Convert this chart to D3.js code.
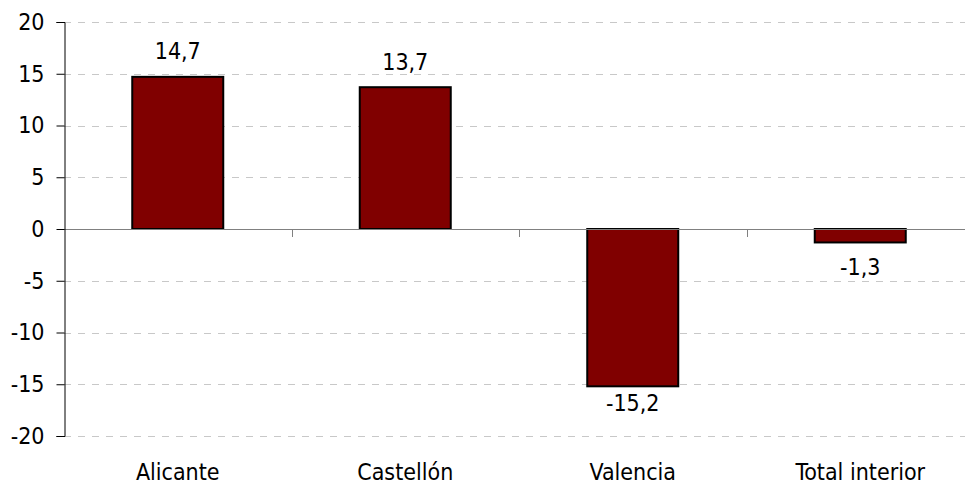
<!DOCTYPE html>
<html><head><meta charset="utf-8">
<script src="https://cdn.jsdelivr.net/npm/d3@7"></script>
<style>
html,body{margin:0;padding:0;background:#fff;}
svg text{font-family:"DejaVu Sans Condensed","DejaVu Sans",sans-serif;font-size:23px;fill:#000;}
</style></head>
<body><svg id="c" width="965" height="484"></svg>
<script>
const categories = ["Alicante", "Castellón", "Valencia", "Total interior"];
const values = [14.7, 13.7, -15.2, -1.3];
const labels = ["14,7", "13,7", "-15,2", "-1,3"];
const yTicks = [-20, -15, -10, -5, 0, 5, 10, 15, 20];

(function () {
const svg = d3.select("#c");
const mLeft = 64, mRight = 974, mTop = 22, mBottom = 436;

const x = d3.scaleBand().domain(categories).range([mLeft, mRight]).padding(0);
const y = d3.scaleLinear().domain([-20, 20]).range([mBottom, mTop]);

// gridlines
svg.append("g").selectAll("line").data(yTicks.filter(d => d !== 0)).join("line")
  .attr("x1", mLeft).attr("x2", 965)
  .attr("y1", d => Math.round(y(d)) + 0.5).attr("y2", d => Math.round(y(d)) + 0.5)
  .attr("stroke", "#c8c8c8").attr("stroke-width", 1).attr("stroke-dasharray", "7,7");

// bars
const bw = x.bandwidth() * 0.4;
svg.append("g").selectAll("rect").data(values).join("rect")
  .attr("x", (d, i) => x(categories[i]) + x.bandwidth() / 2 - bw / 2)
  .attr("width", bw)
  .attr("y", d => y(Math.max(0, d)))
  .attr("height", d => Math.abs(y(d) - y(0)))
  .attr("fill", "#800000").attr("stroke", "#000").attr("stroke-width", 2);

// zero line
svg.append("line").attr("x1", mLeft).attr("x2", 965)
  .attr("y1", Math.round(y(0)) + 0.5).attr("y2", Math.round(y(0)) + 0.5)
  .attr("stroke", "#808080").attr("stroke-width", 1);

// category ticks
svg.append("g").selectAll("line").data(categories.slice(1)).join("line")
  .attr("x1", d => Math.round(x(d)) + 0.5).attr("x2", d => Math.round(x(d)) + 0.5)
  .attr("y1", y(0)).attr("y2", y(0) + 8)
  .attr("stroke", "#808080");

// y axis
const yAxis = d3.axisLeft(y).tickValues(yTicks).tickSize(8).tickPadding(12).tickFormat(d => d);
const gy = svg.append("g").attr("transform", `translate(${mLeft + 0.5},0)`).call(yAxis);
gy.select(".domain").attr("stroke", "#000");
gy.selectAll(".tick line").attr("stroke", "#000");
gy.selectAll("text").attr("font-family", null).attr("font-size", null).attr("fill", "#000");

// category labels
svg.append("g").selectAll("text").data(categories).join("text")
  .attr("x", d => x(d) + x.bandwidth() / 2).attr("y", 480)
  .attr("text-anchor", "middle").text(d => d);

// value labels
svg.append("g").selectAll("text").data(values).join("text")
  .attr("x", (d, i) => x(categories[i]) + x.bandwidth() / 2)
  .attr("y", d => d >= 0 ? y(d) - 17.5 : Math.max(y(d) + 25, y(0) + 46))
  .attr("text-anchor", "middle").text((d, i) => labels[i]);
})();
</script></body></html>
